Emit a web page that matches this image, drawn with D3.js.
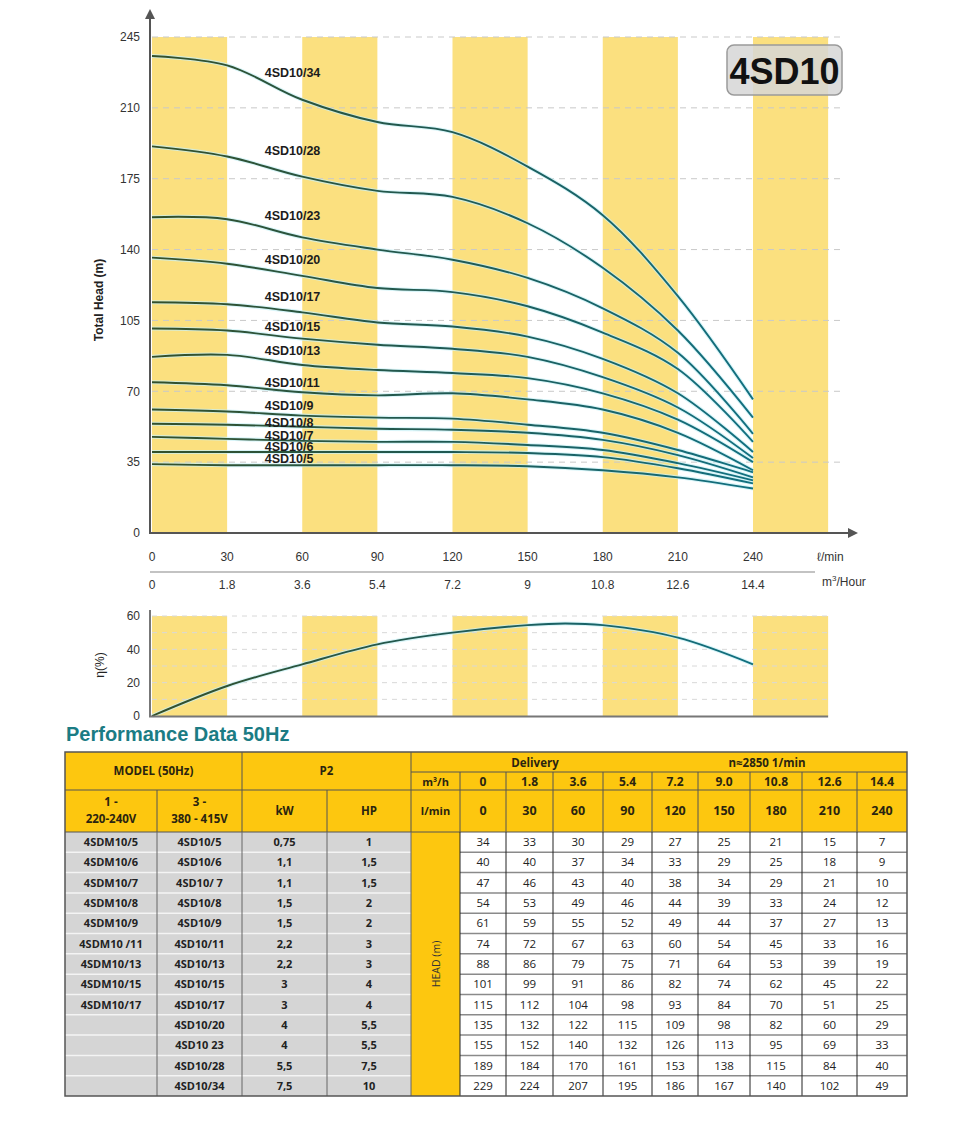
<!DOCTYPE html>
<html><head><meta charset="utf-8">
<script src="https://cdn.jsdelivr.net/npm/d3@7"></script>
<style>
html,body{margin:0;padding:0;background:#fff;}
svg{display:block;font-family:"Liberation Sans",Arial,sans-serif;}
</style></head>
<body>
<svg id="c" width="960" height="1133"></svg>
<script>
// ---------- DATA ----------
const flowLpm = [0, 30, 60, 90, 120, 150, 180, 210, 240];
const flowM3hLabels = ["0", "1.8", "3.6", "5.4", "7.2", "9", "10.8", "12.6", "14.4"];
const headTicks = [0, 35, 70, 105, 140, 175, 210, 245];
const effTicks = [0, 20, 40, 60];
const bandStarts = [0, 60, 120, 180, 240];

const curveNames = ["4SD10/34","4SD10/28","4SD10/23","4SD10/20","4SD10/17","4SD10/15","4SD10/13","4SD10/11","4SD10/9","4SD10/8","4SD10/7","4SD10/6","4SD10/5"];
const h34 = [235.6, 231, 214, 203, 198, 181, 157, 117, 66];
const h28 = [191, 186, 176, 169, 166, 153, 131, 100, 57];
const h23 = [156, 155, 146, 140, 135, 126, 111, 89, 49];
const h20 = [136, 133, 127, 121, 119, 112, 99, 81, 45];
const h17 = [114, 113, 109, 104, 102, 97, 86, 69, 40];
const h15 = [101, 100, 96, 93, 91, 87, 77, 62, 37];
const h13 = [87, 88, 83, 80.5, 79, 76.5, 69, 56, 35];
const h11 = [74.5, 73, 69.5, 68, 69, 66, 61, 49.5, 31];
const h9  = [61, 60, 58, 57, 56.5, 53.5, 49.5, 41, 30];
const h8  = [54, 53.5, 52.5, 51.5, 51, 49.5, 46, 38.5, 27.5];
const h7  = [47.5, 46.5, 45.5, 45, 45, 43.5, 41, 34.5, 26];
const h6  = [40, 40, 40, 40, 40, 39.5, 37.5, 32, 24.5];
const h5  = [34, 33.5, 33.5, 33.5, 33.5, 33, 31, 27.5, 22];
const labelHeads = [227.7, 188.7, 156.6, 135.3, 117, 101.8, 89.9, 74.1, 63.2, 54.8, 48.4, 42.5, 36.6];

const effFlow = [0, 30, 60, 90, 120, 150, 165, 180, 210, 240];
const effVals = [0, 18, 31, 43, 50, 54.5, 55.5, 54.5, 47, 31];

// table
const modelsSingle = ["4SDM10/5","4SDM10/6","4SDM10/7","4SDM10/8","4SDM10/9","4SDM10 /11","4SDM10/13","4SDM10/15","4SDM10/17","","","",""];
const modelsThree = ["4SD10/5","4SD10/6","4SD10/ 7","4SD10/8","4SD10/9","4SD10/11","4SD10/13","4SD10/15","4SD10/17","4SD10/20","4SD10 23","4SD10/28","4SD10/34"];
const powerKW = ["0,75","1,1","1,1","1,5","1,5","2,2","2,2","3","3","4","4","5,5","7,5"];
const powerHP = ["1","1,5","1,5","2","2","3","3","4","4","5,5","5,5","7,5","10"];
const tableM3h = ["0","1.8","3.6","5.4","7.2","9.0","10.8","12.6","14.4"];
const tableLpm = ["0","30","60","90","120","150","180","210","240"];
const headTable = [
 [34,33,30,29,27,25,21,15,7],
 [40,40,37,34,33,29,25,18,9],
 [47,46,43,40,38,34,29,21,10],
 [54,53,49,46,44,39,33,24,12],
 [61,59,55,52,49,44,37,27,13],
 [74,72,67,63,60,54,45,33,16],
 [88,86,79,75,71,64,53,39,19],
 [101,99,91,86,82,74,62,45,22],
 [115,112,104,98,93,84,70,51,25],
 [135,132,122,115,109,98,82,60,29],
 [155,152,140,132,126,113,95,69,33],
 [189,184,170,161,153,138,115,84,40],
 [229,224,207,195,186,167,140,102,49]
];

// ---------- DRAW ----------
const svg = d3.select("#c");
const defs = svg.append("defs");
const BAND = "#fbe07f";
const HDR = "#fdc70f";

const grad = defs.append("linearGradient").attr("id","lg").attr("gradientUnits","userSpaceOnUse")
  .attr("x1",152).attr("x2",753).attr("y1",0).attr("y2",0);
grad.append("stop").attr("offset","0").attr("stop-color","#34502a");
grad.append("stop").attr("offset","0.5").attr("stop-color","#1f5a55");
grad.append("stop").attr("offset","1").attr("stop-color","#127080");

const mk = defs.append("marker").attr("id","arr").attr("viewBox","0 0 10 10").attr("refX",5).attr("refY",5)
  .attr("markerWidth",5).attr("markerHeight",5).attr("orient","auto");
mk.append("path").attr("d","M0,0 L10,5 L0,10 z").attr("fill","#555");

const x = d3.scaleLinear().domain([0, 240]).range([152, 753]);
const y = d3.scaleLinear().domain([0, 245]).range([533, 37]);
const yE = d3.scaleLinear().domain([0, 60]).range([716, 616]);

// bands top chart
svg.append("g").selectAll("rect").data(bandStarts).join("rect")
  .attr("x", d => x(d)).attr("width", d => x(d + 30) - x(d))
  .attr("y", y(245)).attr("height", y(0) - y(245)).attr("fill", BAND);

// gridlines
svg.append("g").selectAll("line").data(headTicks.filter(d => d > 0)).join("line")
  .attr("x1", x(0)).attr("x2", 842).attr("y1", d => y(d)).attr("y2", d => y(d))
  .attr("stroke", "#c9c9c9").attr("stroke-width", 1).attr("stroke-dasharray", "6,5");

// 4SD10 badge
svg.append("rect").attr("x",727).attr("y",45).attr("width",115).attr("height",50).attr("rx",7)
  .attr("fill","#d6d6d6").attr("fill-opacity",0.85).attr("stroke","#9a9a9a").attr("stroke-width",1.5);
svg.append("text").attr("x",784.5).attr("y",84).attr("text-anchor","middle")
  .attr("font-size",36).attr("font-weight","bold").attr("fill","#111").text("4SD10");

// curves
const curves = [h34,h28,h23,h20,h17,h15,h13,h11,h9,h8,h7,h6,h5];
const line = d3.line().x((d,i) => x(flowLpm[i])).y(d => y(d)).curve(d3.curveCatmullRom.alpha(0.5));
const cg = svg.append("g");
cg.selectAll("path.halo").data(curves).join("path").attr("class","halo")
  .attr("d", line).attr("fill","none").attr("stroke","#c8f1f7").attr("stroke-width",4).attr("stroke-opacity",0.7);
cg.selectAll("path.c").data(curves).join("path").attr("class","c")
  .attr("d", line).attr("fill","none").attr("stroke","url(#lg)").attr("stroke-width",1.9);

// curve labels
svg.append("g").selectAll("text").data(curveNames).join("text")
  .attr("x", x(45)).attr("y", (d,i) => y(labelHeads[i])).attr("dy","0.36em")
  .attr("font-size",12.5).attr("font-weight","bold").attr("fill","#1c1c1c").text(d => d);

// axes top
svg.append("line").attr("x1",150).attr("x2",150).attr("y1",534).attr("y2",14)
  .attr("stroke","#555").attr("stroke-width",2).attr("marker-end","url(#arr)");
svg.append("line").attr("x1",149).attr("x2",853).attr("y1",533).attr("y2",533)
  .attr("stroke","#555").attr("stroke-width",2).attr("marker-end","url(#arr)");

svg.append("g").selectAll("text").data(headTicks).join("text")
  .attr("x", 140).attr("y", d => y(d)).attr("dy","0.36em").attr("text-anchor","end")
  .attr("font-size",12).attr("fill","#333").text(d => d);
svg.append("text").attr("transform","translate(103,300) rotate(-90)").attr("text-anchor","middle")
  .attr("font-size",12).attr("font-weight","bold").attr("fill","#222").text("Total Head (m)");

svg.append("g").selectAll("text").data(flowLpm).join("text")
  .attr("x", d => x(d)).attr("y", 561).attr("text-anchor","middle")
  .attr("font-size",12).attr("fill","#333").text(d => d);
svg.append("text").attr("x",817).attr("y",561).attr("font-size",12).attr("fill","#333").text("ℓ/min");
svg.append("line").attr("x1",150).attr("x2",815).attr("y1",572).attr("y2",572).attr("stroke","#888").attr("stroke-width",1.2);
svg.append("g").selectAll("text").data(flowM3hLabels).join("text")
  .attr("x", (d,i) => x(flowLpm[i])).attr("y", 589).attr("text-anchor","middle")
  .attr("font-size",12).attr("fill","#333").text(d => d);
const mt = svg.append("text").attr("x",822).attr("y",586).attr("font-size",12).attr("fill","#333");
mt.append("tspan").text("m");
mt.append("tspan").attr("dy",-5).attr("font-size",8).text("3");
mt.append("tspan").attr("dy",5).text("/Hour");

// ---------- efficiency chart ----------
svg.append("g").selectAll("rect").data(bandStarts).join("rect")
  .attr("x", d => x(d)).attr("width", d => x(d + 30) - x(d))
  .attr("y", yE(60)).attr("height", yE(0) - yE(60)).attr("fill", BAND);
svg.append("g").selectAll("line").data([10,20,30,40,50,60]).join("line")
  .attr("x1", x(0)).attr("x2", x(270)).attr("y1", d => yE(d)).attr("y2", d => yE(d))
  .attr("stroke","#d8d8d8").attr("stroke-dasharray","5,5");
const eLine = d3.line().x((d,i) => x(effFlow[i])).y(d => yE(d)).curve(d3.curveCatmullRom.alpha(0.5));
svg.append("path").attr("d", eLine(effVals)).attr("fill","none").attr("stroke","#c8f1f7").attr("stroke-width",4).attr("stroke-opacity",0.7);
svg.append("path").attr("d", eLine(effVals)).attr("fill","none").attr("stroke","url(#lg)").attr("stroke-width",1.9);
svg.append("line").attr("x1",150).attr("x2",150).attr("y1",717).attr("y2",610).attr("stroke","#777").attr("stroke-width",2);
svg.append("line").attr("x1",149).attr("x2",x(270)).attr("y1",716.5).attr("y2",716.5).attr("stroke","#777").attr("stroke-width",2);
svg.append("g").selectAll("text").data(effTicks).join("text")
  .attr("x", 140).attr("y", d => yE(d)).attr("dy","0.36em").attr("text-anchor","end")
  .attr("font-size",12).attr("fill","#333").text(d => d);
svg.append("text").attr("transform","translate(104,665) rotate(-90)").attr("text-anchor","middle")
  .attr("font-size",12).attr("fill","#222").text("η(%)");

// title
svg.append("text").attr("x",66).attr("y",741).attr("font-size",20).attr("font-weight","bold")
  .attr("fill","#1b7c84").text("Performance Data 50Hz");

// ---------- table ----------
const colX = [65,157,242,327,411,460,506,553,603,652,698,750,802,857,907];
const rTop = 752, rDel = 772, rM3 = 790, rHdrEnd = 832, rowH = (1096 - 832) / 13;
const T = svg.append("g").attr("font-family","'Open Sans','Liberation Sans',Arial,sans-serif");

// header fills
T.append("rect").attr("x",colX[0]).attr("y",rTop).attr("width",colX[14]-colX[0]).attr("height",rHdrEnd-rTop).attr("fill",HDR);
// head column
T.append("rect").attr("x",colX[4]).attr("y",rHdrEnd).attr("width",colX[5]-colX[4]).attr("height",13*rowH).attr("fill",HDR);
// gray cells
T.append("rect").attr("x",colX[0]).attr("y",rHdrEnd).attr("width",colX[4]-colX[0]).attr("height",13*rowH).attr("fill","#d5d5d5");
// white value cells
T.append("rect").attr("x",colX[5]).attr("y",rHdrEnd).attr("width",colX[14]-colX[5]).attr("height",13*rowH).attr("fill","#fff");

const hdrText = (tx, ty, s, size) => T.append("text").attr("x",tx).attr("y",ty).attr("text-anchor","middle")
  .attr("font-size",size||11.5).attr("font-weight","bold").attr("fill","#2a2410").text(s);
hdrText((colX[0]+colX[2])/2, 775, "MODEL (50Hz)");
hdrText((colX[2]+colX[4])/2, 775, "P2");
hdrText(535, 767, "Delivery");
hdrText(767, 767, "n≈2850 1/min");
hdrText((colX[0]+colX[1])/2, 806, "1 -");
hdrText((colX[0]+colX[1])/2, 823, "220-240V");
hdrText((colX[1]+colX[2])/2, 806, "3 -");
hdrText((colX[1]+colX[2])/2, 823, "380 - 415V");
hdrText((colX[2]+colX[3])/2, 815, "kW");
hdrText((colX[3]+colX[4])/2, 815, "HP");
hdrText((colX[4]+colX[5])/2, 786, "m³/h", 11);
hdrText((colX[4]+colX[5])/2, 815, "l/min", 11);
tableM3h.forEach((s,i) => hdrText((colX[5+i]+colX[6+i])/2, 786, s, 12));
tableLpm.forEach((s,i) => hdrText((colX[5+i]+colX[6+i])/2, 815, s, 12.5));

// header lines
const L = (x1,y1,x2,y2,c,w) => T.append("line").attr("x1",x1).attr("y1",y1).attr("x2",x2).attr("y2",y2).attr("stroke",c||"#555").attr("stroke-width",w||1);
L(colX[4], rDel, colX[14], rDel);
L(colX[0], rM3, colX[4], rM3);
L(colX[4], rM3, colX[14], rM3);
L(colX[0], rHdrEnd, colX[14], rHdrEnd);
[1].forEach(i => L(colX[i], rM3, colX[i], rHdrEnd));
[2,4].forEach(i => L(colX[i], rTop, colX[i], rHdrEnd));
L(colX[3], rM3, colX[3], rHdrEnd);
for (let i = 5; i < 14; i++) L(colX[i], rDel, colX[i], rHdrEnd);

// data rows
modelsThree.forEach((m, r) => {
  const cy = rHdrEnd + rowH * r + rowH / 2 + 4;
  const cell = (c, s, bold) => T.append("text").attr("x",(colX[c]+colX[c+1])/2).attr("y",cy)
    .attr("text-anchor","middle").attr("font-size", bold ? 11 : 11.5).attr("font-weight", bold ? "bold" : "normal")
    .attr("fill","#222").text(s);
  cell(0, modelsSingle[r], true);
  cell(1, m, true);
  cell(2, powerKW[r], true);
  cell(3, powerHP[r], true);
  headTable[r].forEach((v, j) => cell(5 + j, v, false));
  if (r > 0) {
    const yy = rHdrEnd + rowH * r;
    L(colX[0], yy, colX[4], yy, "#f4f4f4", 1.5);
    L(colX[5], yy, colX[14], yy, "#8a8a8a", 1.5);
  }
});
for (let i = 1; i < 5; i++) L(colX[i], rHdrEnd, colX[i], 1096, "#666", 1);
for (let i = 5; i < 14; i++) L(colX[i], rHdrEnd, colX[i], 1096, "#222", 1);
T.append("text").attr("transform",`translate(${(colX[4]+colX[5])/2 + 4},964) rotate(-90)`)
  .attr("text-anchor","middle").attr("font-size",10.5).attr("fill","#333").text("HEAD (m)");

// outer border
T.append("rect").attr("x",colX[0]).attr("y",rTop).attr("width",colX[14]-colX[0]).attr("height",1096-rTop)
  .attr("fill","none").attr("stroke","#555").attr("stroke-width",1.5);
</script>
</body></html>
